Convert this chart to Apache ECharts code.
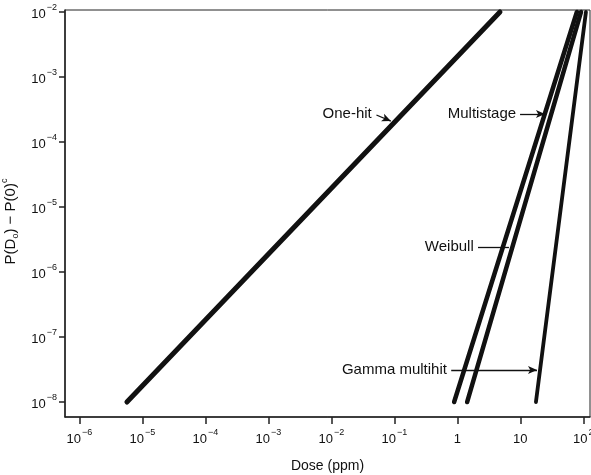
<!DOCTYPE html>
<html>
<head>
<meta charset="utf-8">
<script src="https://cdn.jsdelivr.net/npm/echarts@6/dist/echarts.min.js"></script>
<style>html,body{margin:0;padding:0;background:#fff}#c{width:591px;height:475px}</style>
</head>
<body>
<div id="c"></div>
<script>
// Data (dose in ppm, risk P(D)-P(0))
const oneHitDose = [5.7e-6, 4.75];
const oneHitRisk = [1e-8, 1e-2];
const multistageDose = [0.89, 79];
const multistageRisk = [1e-8, 1e-2];
const weibullDose = [1.43, 92];
const weibullRisk = [1e-8, 1e-2];
const gammaDose = [17.7, 110];
const gammaRisk = [1e-8, 1e-2];
const xTickExps = [-6, -5, -4, -3, -2, -1, 0, 1, 2];
const yTickExps = [-8, -7, -6, -5, -4, -3, -2];
// annotation anchors (values in data units)
const annotLabels = ['One-hit', 'Multistage', 'Weibull', 'Gamma multihit'];
const annotTextDose = [0.048, 9.4, 2.0, 0.75];
const annotTextRisk = [2.75e-4, 2.7e-4, 2.43e-6, 3.1e-8];
const annotFromDose = [0.052, 9.9, 2.13, 0.80];
const annotFromRisk = [2.6e-4, 2.7e-4, 2.43e-6, 3.1e-8];
const annotToDose = [0.088, 24.6, 6.6, 18.4];
const annotToRisk = [2.1e-4, 2.7e-4, 2.43e-6, 3.1e-8];
const annotHead = [true, true, false, true];

const L = Math.log10;
function pts(d, r) { return d.map((v, i) => [L(v), L(r[i])]); }
function expLabel(v) {
  v = Math.round(v);
  if (v === 0) return '{b|1}';
  if (v === 1) return '{b|10}';
  return '{b|10}{s|' + (v < 0 ? '\u2212' + (-v) : v) + '}';
}
const rich = {
  b: { fontSize: 13, fontFamily: 'Liberation Sans', color: '#111', verticalAlign: 'bottom', lineHeight: 18 },
  s: { fontSize: 9, fontFamily: 'Liberation Sans', color: '#111', verticalAlign: 'top', lineHeight: 18, padding: [0, 0, 0, 1] }
};
const lineStyleBase = { color: '#111', cap: 'round' };
const annFont = { fontSize: 15, fontFamily: 'Liberation Sans', color: '#111' };

const markPointData = annotLabels.map((t, i) => ({
  coord: [L(annotTextDose[i]), L(annotTextRisk[i])],
  symbol: 'circle', symbolSize: 1, itemStyle: { color: 'rgba(0,0,0,0)' },
  label: Object.assign({ show: true, formatter: t, position: 'left', distance: 2 }, annFont)
}));
const markLineData = annotLabels.map((t, i) => [
  { coord: [L(annotFromDose[i]), L(annotFromRisk[i])], symbol: 'none' },
  { coord: [L(annotToDose[i]), L(annotToRisk[i])], symbol: annotHead[i] ? 'arrow' : 'none', symbolSize: [6, 9] }
]);

const chart = echarts.init(document.getElementById('c'), null, { renderer: 'canvas' });
chart.setOption({
  animation: false,
  backgroundColor: '#fff',
  grid: { left: 65, top: 10, right: 1, bottom: 58, show: true, borderColor: '#222', borderWidth: 1,
    containLabel: false, outerBoundsMode: 'none' },
  xAxis: {
    type: 'value', min: -6.227, max: 2.106,
    name: 'Dose (ppm)', nameLocation: 'middle', nameGap: 42,
    nameTextStyle: { fontSize: 14, fontFamily: 'Liberation Sans', color: '#111' },
    axisLine: { show: true, onZero: false, lineStyle: { color: '#222', width: 1.5 } },
    axisTick: { show: true, customValues: xTickExps, length: 7, inside: false, lineStyle: { color: '#222', width: 1.5 } },
    axisLabel: { show: true, customValues: xTickExps, margin: 11, formatter: expLabel, rich: rich, hideOverlap: false },
    splitLine: { show: false }
  },
  yAxis: {
    type: 'value', min: -8.23, max: -1.97,
    name: '{n|P(D}{d|o}{n|) \u2212 P(0)}{u|c}', nameLocation: 'middle', nameGap: 42, nameRotate: 90,
    nameTextStyle: {
      padding: [0, 16, 0, 0],
      rich: {
        n: { fontSize: 15, fontFamily: 'Liberation Sans', color: '#111', lineHeight: 18 },
        d: { fontSize: 9, fontFamily: 'Liberation Sans', color: '#111', verticalAlign: 'bottom', lineHeight: 20 },
        u: { fontSize: 9, fontFamily: 'Liberation Sans', color: '#111', verticalAlign: 'top', lineHeight: 20 }
      }
    },
    axisLine: { show: true, onZero: false, lineStyle: { color: '#222', width: 1.5 } },
    axisTick: { show: true, customValues: yTickExps, length: 6, lineStyle: { color: '#222', width: 1.5 } },
    axisLabel: { show: true, customValues: yTickExps, margin: 8, formatter: expLabel, rich: rich, hideOverlap: false },
    splitLine: { show: false }
  },
  series: [
    { name: 'One-hit', type: 'line', data: pts(oneHitDose, oneHitRisk), showSymbol: false,
      lineStyle: Object.assign({ width: 5 }, lineStyleBase),
      markPoint: { silent: true, data: markPointData },
      markLine: { silent: true, symbol: ['none', 'arrow'], lineStyle: { color: '#111', width: 1.3, type: 'solid' },
        label: { show: false }, data: markLineData } },
    { name: 'Multistage', type: 'line', data: pts(multistageDose, multistageRisk), showSymbol: false,
      lineStyle: Object.assign({ width: 4.5 }, lineStyleBase) },
    { name: 'Weibull', type: 'line', data: pts(weibullDose, weibullRisk), showSymbol: false,
      lineStyle: Object.assign({ width: 4.5 }, lineStyleBase) },
    { name: 'Gamma multihit', type: 'line', data: pts(gammaDose, gammaRisk), showSymbol: false,
      lineStyle: Object.assign({ width: 3.8 }, lineStyleBase) }
  ]
});
</script>
</body>
</html>
